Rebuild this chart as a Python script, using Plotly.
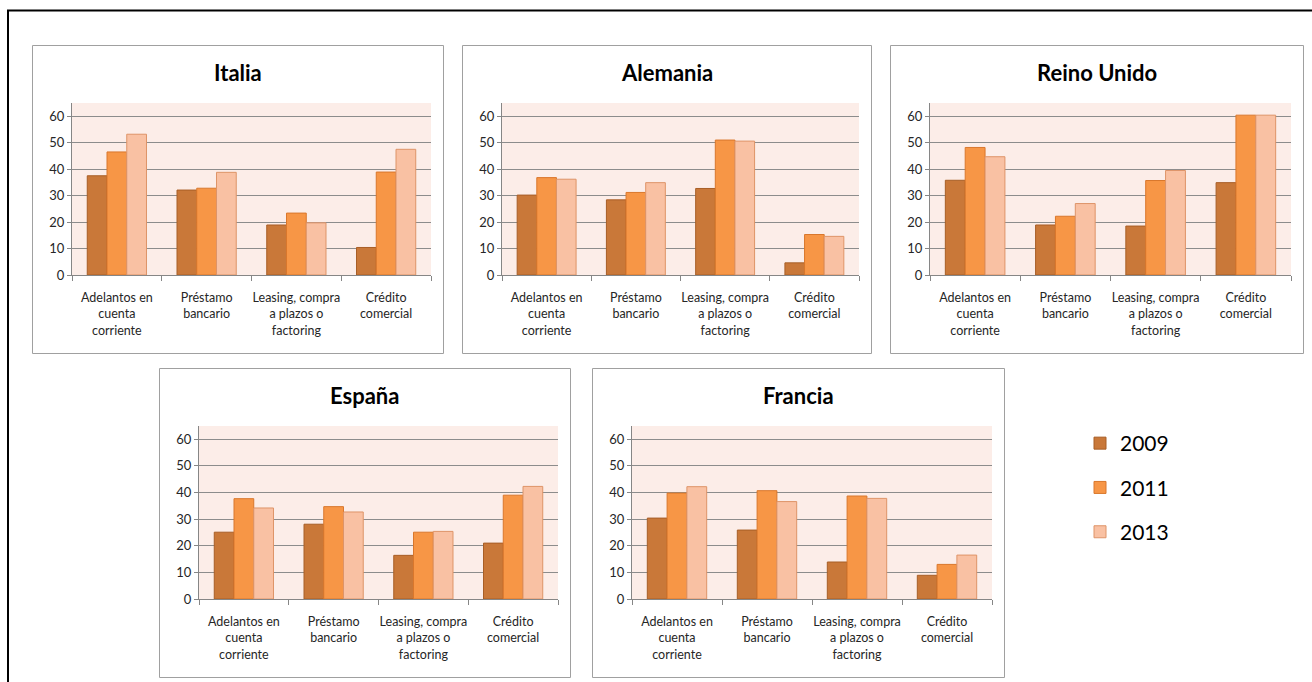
import plotly.graph_objects as go

W, H = 1312, 682

# Category labels (line breaks as in the original chart) and series years
categorias = [
    "Adelantos en<br>cuenta<br>corriente",
    "Préstamo<br>bancario",
    "Leasing, compra<br>a plazos o<br>factoring",
    "Crédito<br>comercial",
]
anios = ["2009", "2011", "2013"]
paises = ["Italia", "Alemania", "Reino Unido", "España", "Francia"]

# Values per country, one list per year (same order as categorias)
italia_2009 = [37.5, 32.1, 18.9, 10.4]
italia_2011 = [46.5, 32.8, 23.4, 38.9]
italia_2013 = [53.2, 38.8, 19.7, 47.5]

alemania_2009 = [30.2, 28.4, 32.7, 4.6]
alemania_2011 = [36.8, 31.2, 51.0, 15.3]
alemania_2013 = [36.2, 34.9, 50.6, 14.6]

reino_unido_2009 = [35.8, 18.9, 18.5, 34.9]
reino_unido_2011 = [48.2, 22.2, 35.7, 60.4]
reino_unido_2013 = [44.7, 27.0, 39.5, 60.4]

espana_2009 = [25.1, 28.1, 16.4, 21.0]
espana_2011 = [37.7, 34.7, 25.1, 39.0]
espana_2013 = [34.2, 32.7, 25.4, 42.3]

francia_2009 = [30.4, 25.9, 13.9, 8.9]
francia_2011 = [39.8, 40.7, 38.7, 13.0]
francia_2013 = [42.2, 36.6, 37.8, 16.5]

valores = {
    "Italia": [italia_2009, italia_2011, italia_2013],
    "Alemania": [alemania_2009, alemania_2011, alemania_2013],
    "Reino Unido": [reino_unido_2009, reino_unido_2011, reino_unido_2013],
    "España": [espana_2009, espana_2011, espana_2013],
    "Francia": [francia_2009, francia_2011, francia_2013],
}

# Styling
rellenos = ["#C97839", "#F79646", "#F9C1A3"]
bordes = ["#A85E26", "#D9772C", "#DE9468"]
FONT = "Lato, 'Open Sans', sans-serif"
GRID = "#8C8C8C"
AXIS = "#868686"
TEXT = "#262626"

# Panel frames in pixels: (left, top, right, bottom)
marcos = {
    "Italia": (32, 45, 443, 353),
    "Alemania": (462, 45, 871, 353),
    "Reino Unido": (890, 45, 1303, 353),
    "España": (159, 368, 570, 677),
    "Francia": (592, 368, 1004, 677),
}


def px_x(x):
    return x / W


def px_y(y):
    return 1 - y / H


fig = go.Figure()
shapes = []
annotations = []
layout_axes = {}

for i, pais in enumerate(paises, start=1):
    left, top, right, bottom = marcos[pais]
    # plot area inside the frame
    pl, pr = left + 40, right - 12
    pt, pb = top + 58, bottom - 78
    xa = "x" if i == 1 else f"x{i}"
    ya = "y" if i == 1 else f"y{i}"
    xkey = "xaxis" if i == 1 else f"xaxis{i}"
    ykey = "yaxis" if i == 1 else f"yaxis{i}"

    for j, anio in enumerate(anios):
        fig.add_trace(go.Bar(
            x=categorias,
            y=valores[pais][j],
            name=anio,
            legendgroup=anio,
            showlegend=(i == 1),
            marker=dict(color=rellenos[j], line=dict(color=bordes[j], width=1)),
            xaxis=xa,
            yaxis=ya,
            hovertemplate="%{y}<extra>" + pais + " " + anio + "</extra>",
        ))

    layout_axes[xkey] = dict(
        domain=[px_x(pl), px_x(pr)],
        anchor=ya,
        type="category",
        showline=True, linecolor=AXIS, linewidth=1,
        ticks="outside", tickson="boundaries", ticklen=5, tickcolor=AXIS,
        showgrid=False,
        tickangle=0,
        ticklabelstandoff=11,
        automargin=False,
        tickfont=dict(family=FONT, size=12.5, color=TEXT),
        fixedrange=True,
    )
    layout_axes[ykey] = dict(
        domain=[px_y(pb), px_y(pt)],
        anchor=xa,
        range=[0, 65],
        dtick=10,
        showline=True, linecolor=AXIS, linewidth=1,
        ticks="outside", ticklen=4, tickcolor=AXIS,
        showgrid=True, gridcolor=GRID, gridwidth=1,
        zeroline=False,
        automargin=False,
        tickfont=dict(family=FONT, size=13, color=TEXT),
        fixedrange=True,
    )

    shapes.append(dict(
        type="rect", xref="paper", yref="paper",
        x0=px_x(left + 0.5), x1=px_x(right + 0.5),
        y0=px_y(top + 0.5), y1=px_y(bottom + 0.5),
        line=dict(color="#A0A0A0", width=1),
        fillcolor="rgba(0,0,0,0)", layer="below",
    ))
    annotations.append(dict(
        text=f"<b>{pais}</b>", xref="paper", yref="paper",
        x=px_x((left + right) / 2), y=px_y(top + 27),
        xanchor="center", yanchor="middle", showarrow=False,
        font=dict(family=FONT, size=22, color="#000000"),
    ))

# Outer frame around the whole figure
shapes.append(dict(
    type="rect", xref="paper", yref="paper",
    x0=px_x(8), x1=px_x(W + 20), y0=px_y(10.5), y1=px_y(H + 20),
    line=dict(color="#000000", width=2),
    fillcolor="rgba(0,0,0,0)", layer="below",
))

fig.update_layout(
    width=W, height=H,
    margin=dict(l=0, r=0, t=0, b=0, autoexpand=False),
    paper_bgcolor="#FFFFFF",
    plot_bgcolor="#FCEDE8",
    barmode="group",
    bargap=0.34,
    bargroupgap=0,
    shapes=shapes,
    annotations=annotations,
    showlegend=True,
    legend=dict(
        x=px_x(1080), y=px_y(423), xanchor="left", yanchor="top",
        font=dict(family=FONT, size=21, color="#000000"),
        tracegroupgap=14,
        bgcolor="rgba(0,0,0,0)",
        traceorder="grouped",
    ),
    **layout_axes,
)

fig.write_html("out.html")
